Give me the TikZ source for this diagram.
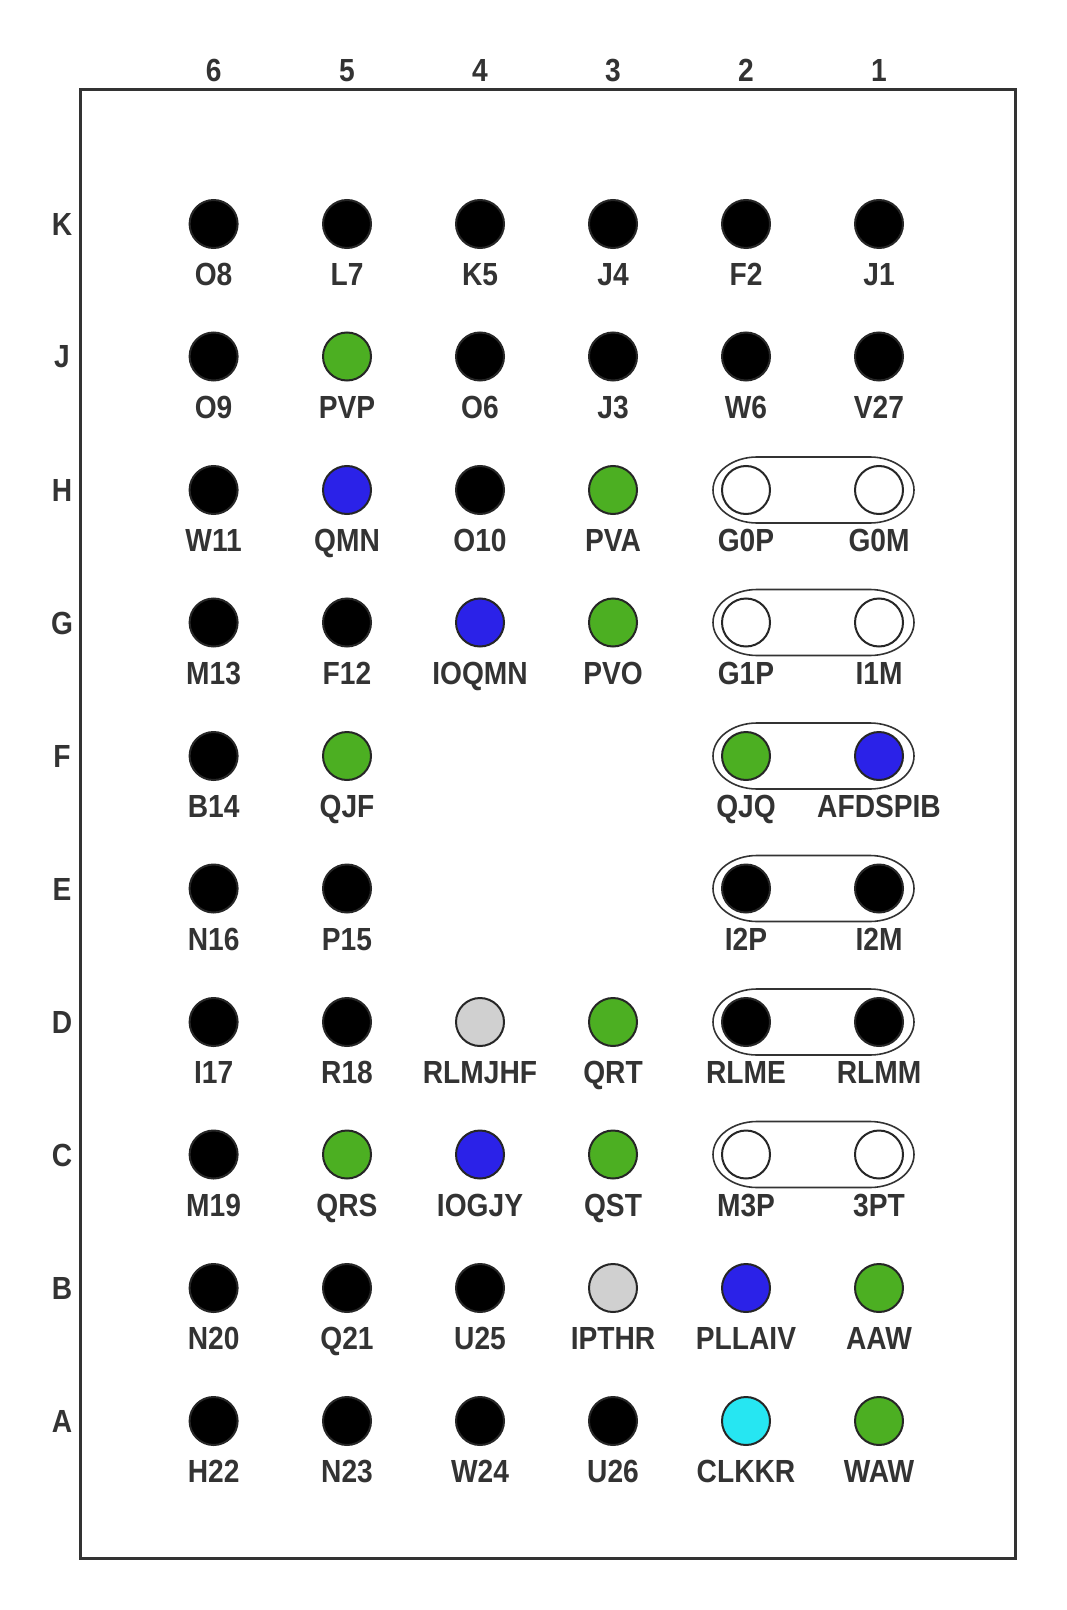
\documentclass[tikz,border=0pt]{standalone}
\usepackage{fontspec}
\setmainfont{Liberation Sans}
\newfontfamily\lblfont[FakeStretch=0.88]{Liberation Sans}
\definecolor{txt}{HTML}{333333}
\definecolor{pgreen}{HTML}{4CAF22}
\definecolor{pblue}{HTML}{2B22E8}
\definecolor{pgray}{HTML}{D0D0D0}
\definecolor{pcyan}{HTML}{26E6F2}
\definecolor{pwhite}{HTML}{FFFFFF}
\definecolor{pblack}{HTML}{000000}
\begin{document}
\begin{tikzpicture}[x=0.5pt,y=-0.5pt,
  pin/.style={circle,draw=black!85,line width=1pt,minimum size=24pt,inner sep=0pt},
  lbl/.style={text=txt,font=\lblfont\fontsize{16}{16}\selectfont\bfseries,inner sep=0pt,anchor=base},
  hdr/.style={text=txt,font=\lblfont\fontsize{16}{16}\selectfont\bfseries,inner sep=0pt,anchor=base},
  pill/.style={draw=black!80,line width=0.8pt}]
\useasboundingbox (0,0) rectangle (1066,1610);
\draw[line width=1.5pt,draw=txt] (80,90) rectangle (1015,1558);
% column headers
\foreach \n/\x in {6/213.6,5/347,4/480,3/613,2/746,1/879}
  \node[hdr] (col\n) at (\x,81.5) {\n};
% row headers
\foreach \r/\y in {K/224,J/356.5,H/490,G/622.5,F/756,E/888.5,D/1022,C/1154.5,B/1288,A/1421}
  \node[hdr] (row\r) at (62,\y+11.5) {\r};
% pills (columns 2 and 1)
\foreach \r/\y in {H/490,G/622.5,F/756,E/888.5,D/1022,C/1154.5}{
  \draw[pill] (757,\y-33) -- (870,\y-33) arc[start angle=-90,end angle=90,x radius=44,y radius=33]
     -- (757,\y+33) arc[start angle=90,end angle=270,x radius=44,y radius=33] -- cycle;
}
% pins: row/y ; col/x ; colour ; label
\foreach \r/\y/\c/\x/\col/\t in {
 K/224/6/213.6/pblack/O8, K/224/5/347/pblack/L7, K/224/4/480/pblack/K5, K/224/3/613/pblack/J4, K/224/2/746/pblack/F2, K/224/1/879/pblack/J1,
 J/356.5/6/213.6/pblack/O9, J/356.5/5/347/pgreen/PVP, J/356.5/4/480/pblack/O6, J/356.5/3/613/pblack/J3, J/356.5/2/746/pblack/W6, J/356.5/1/879/pblack/V27,
 H/490/6/213.6/pblack/W11, H/490/5/347/pblue/QMN, H/490/4/480/pblack/O10, H/490/3/613/pgreen/PVA, H/490/2/746/pwhite/G0P, H/490/1/879/pwhite/G0M,
 G/622.5/6/213.6/pblack/M13, G/622.5/5/347/pblack/F12, G/622.5/4/480/pblue/IOQMN, G/622.5/3/613/pgreen/PVO, G/622.5/2/746/pwhite/G1P, G/622.5/1/879/pwhite/I1M,
 F/756/6/213.6/pblack/B14, F/756/5/347/pgreen/QJF, F/756/2/746/pgreen/QJQ, F/756/1/879/pblue/AFDSPIB,
 E/888.5/6/213.6/pblack/N16, E/888.5/5/347/pblack/P15, E/888.5/2/746/pblack/I2P, E/888.5/1/879/pblack/I2M,
 D/1022/6/213.6/pblack/I17, D/1022/5/347/pblack/R18, D/1022/4/480/pgray/RLMJHF, D/1022/3/613/pgreen/QRT, D/1022/2/746/pblack/RLME, D/1022/1/879/pblack/RLMM,
 C/1154.5/6/213.6/pblack/M19, C/1154.5/5/347/pgreen/QRS, C/1154.5/4/480/pblue/IOGJY, C/1154.5/3/613/pgreen/QST, C/1154.5/2/746/pwhite/M3P, C/1154.5/1/879/pwhite/3PT,
 B/1288/6/213.6/pblack/N20, B/1288/5/347/pblack/Q21, B/1288/4/480/pblack/U25, B/1288/3/613/pgray/IPTHR, B/1288/2/746/pblue/PLLAIV, B/1288/1/879/pgreen/AAW,
 A/1421/6/213.6/pblack/H22, A/1421/5/347/pblack/N23, A/1421/4/480/pblack/W24, A/1421/3/613/pblack/U26, A/1421/2/746/pcyan/CLKKR, A/1421/1/879/pgreen/WAW}{
  \node[pin,fill=\col] (p\r\c) at (\x,\y) {};
  \node[lbl] (l\r\c) at (\x,\y+61.5) {\t};
}
\end{tikzpicture}
\end{document}
